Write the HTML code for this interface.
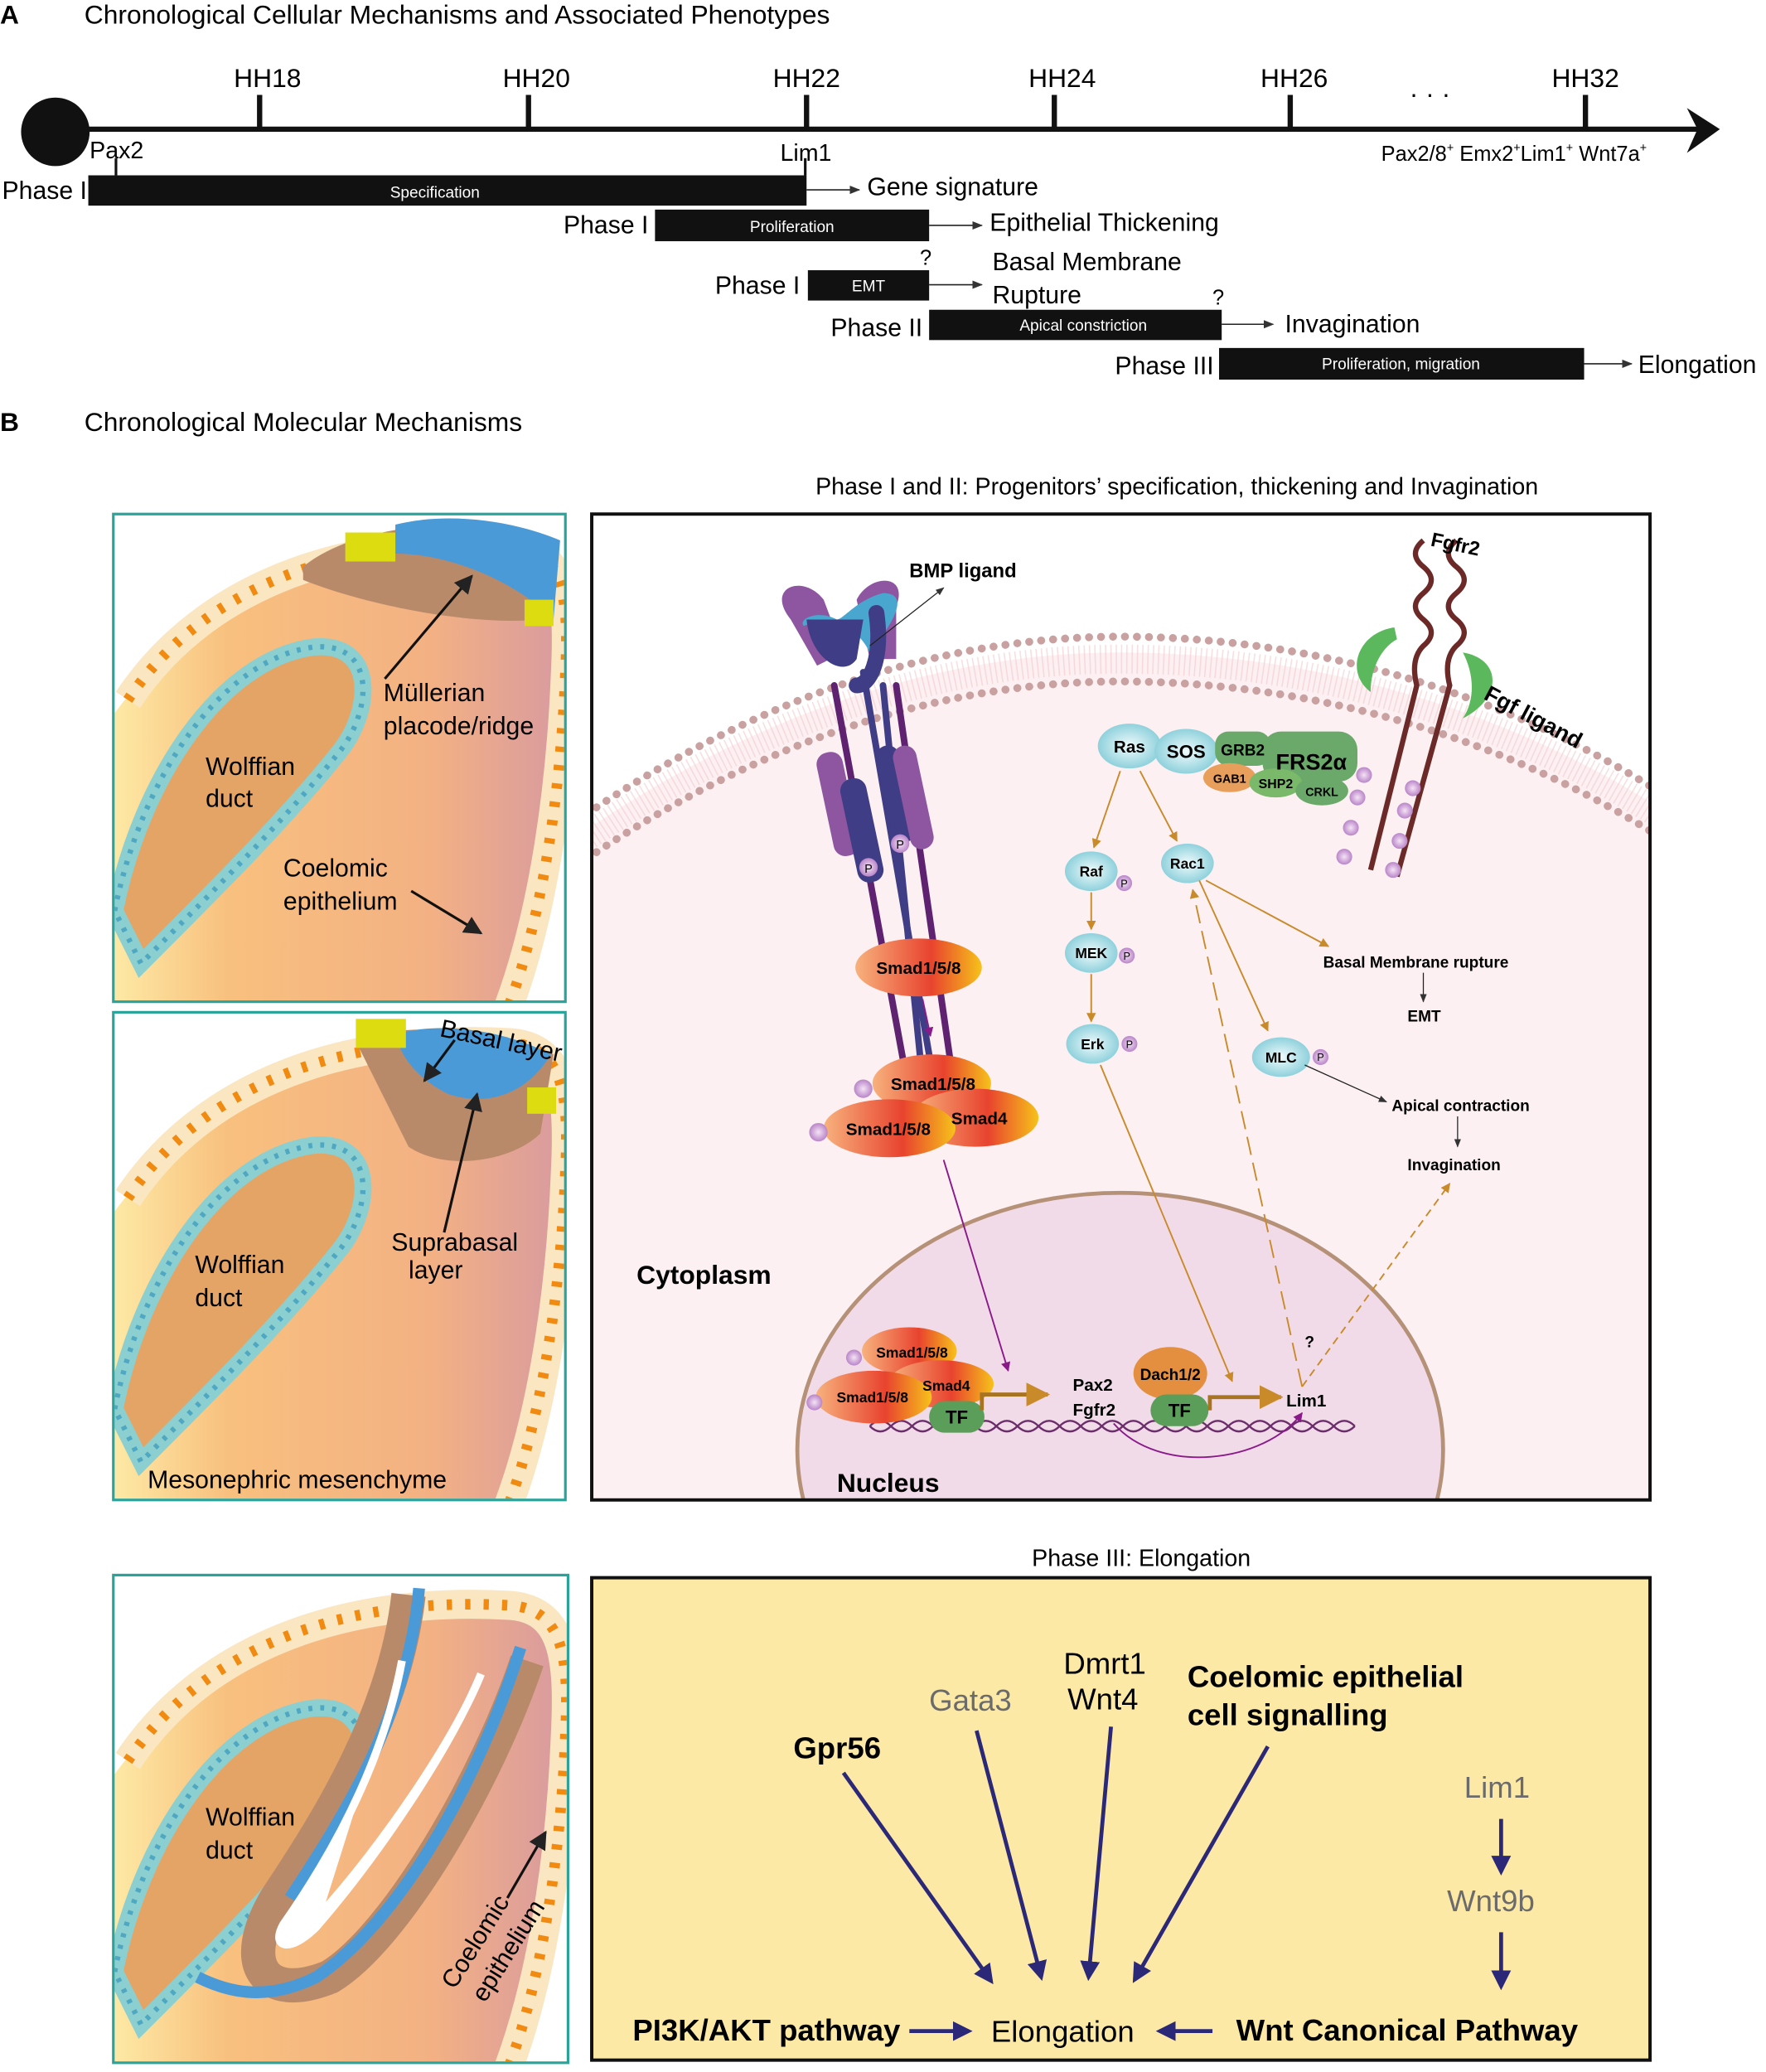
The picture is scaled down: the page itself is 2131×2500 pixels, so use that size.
<!DOCTYPE html>
<html><head><meta charset="utf-8"><style>
html,body{margin:0;padding:0;background:#fff;}
svg{display:block;}
text{font-family:"Liberation Sans","DejaVu Sans",sans-serif;}
</style></head><body>
<svg width="2131" height="2500" viewBox="0 0 1340 1572" xmlns="http://www.w3.org/2000/svg">
<defs>
<linearGradient id="body" x1="0" x2="1" y1="0" y2="0">
<stop offset="0" stop-color="#fde9a4"/><stop offset="0.25" stop-color="#f8c07e"/><stop offset="0.7" stop-color="#f3b183"/><stop offset="1" stop-color="#d89aa0"/></linearGradient>
<linearGradient id="smad" x1="0" x2="1"><stop offset="0" stop-color="#f7b27d"/><stop offset="0.6" stop-color="#e8432e"/><stop offset="1" stop-color="#f6c21a"/></linearGradient>
<radialGradient id="blueg"><stop offset="0" stop-color="#f0fbfc"/><stop offset="1" stop-color="#8fd1dc"/></radialGradient>
<radialGradient id="pg"><stop offset="0" stop-color="#f5e3f5"/><stop offset="1" stop-color="#b985c9"/></radialGradient>
<clipPath id="c1"><rect x="87" y="391" width="341" height="368"/></clipPath>
<clipPath id="c2"><rect x="87" y="769" width="341" height="368"/></clipPath>
<clipPath id="c3"><rect x="87" y="1196" width="343" height="368"/></clipPath>
<clipPath id="cm"><rect x="450" y="391" width="801" height="746"/></clipPath>
<marker id="ak" viewBox="0 0 10 10" refX="9" refY="5" markerWidth="7" markerHeight="7" orient="auto"><path d="M0,0L10,5L0,10z" fill="#222"/></marker>
<marker id="ag" viewBox="0 0 10 10" refX="9" refY="5" markerWidth="6" markerHeight="6" orient="auto"><path d="M0,0L10,5L0,10z" fill="#c98a2a"/></marker>
<marker id="ap" viewBox="0 0 10 10" refX="9" refY="5" markerWidth="6" markerHeight="6" orient="auto"><path d="M0,0L10,5L0,10z" fill="#8a1a8a"/></marker>
<marker id="an" viewBox="0 0 10 10" refX="8" refY="5" markerWidth="5" markerHeight="5" orient="auto"><path d="M0,0L10,5L0,10z" fill="#2b2878"/></marker>
<marker id="at" viewBox="0 0 10 10" refX="9" refY="5" markerWidth="8" markerHeight="8" orient="auto"><path d="M0,1L10,5L0,9z" fill="#333"/></marker>
<g id="embryo">
<path d="M0,380 L0,150 C70,55 190,15 310,20 C340,25 345,60 340,120 C335,220 320,320 290,380 Z" fill="url(#body)"/>
<path d="M10,140 C70,50 180,15 300,22 C340,25 345,60 342,120 C338,220 322,320 292,390" fill="none" stroke="#fbe6c2" stroke-width="22"/>
<path d="M10,140 C70,50 180,15 300,22 C340,25 345,60 342,120 C338,220 322,320 292,390" fill="none" stroke="#f08a10" stroke-width="8" stroke-dasharray="4 10"/>
<path d="M0,300 C20,200 80,110 150,100 C200,95 195,150 170,180 C130,230 80,280 20,340 Z" fill="#e3a466" stroke="#8ccfd0" stroke-width="13"/>
<path d="M0,300 C20,200 80,110 150,100 C200,95 195,150 170,180 C130,230 80,280 20,340 Z" fill="none" stroke="#4fa7c2" stroke-width="4" stroke-dasharray="3 6"/>
</g>
</defs>

<!-- Section A -->
<text x="0" y="18" font-size="20" font-weight="bold">A</text>
<text x="64" y="18" font-size="20">Chronological Cellular Mechanisms and Associated Phenotypes</text>
<line x1="40" y1="98" x2="1290" y2="98" stroke="#111" stroke-width="4"/>
<path d="M1280,82 L1305,98 L1280,116 L1288,98 Z" fill="#111"/>
<circle cx="42" cy="100" r="26" fill="#111"/>
<g stroke="#111" stroke-width="4">
<line x1="197" y1="72" x2="197" y2="98"/><line x1="401" y1="72" x2="401" y2="98"/><line x1="612" y1="72" x2="612" y2="98"/>
<line x1="800" y1="72" x2="800" y2="98"/><line x1="979" y1="72" x2="979" y2="98"/><line x1="1203" y1="72" x2="1203" y2="98"/>
<line x1="88" y1="120" x2="88" y2="133" stroke-width="2"/><line x1="611" y1="120" x2="611" y2="133" stroke-width="2"/>
</g>
<g font-size="20" text-anchor="middle">
<text x="203" y="66">HH18</text><text x="407" y="66">HH20</text><text x="612" y="66">HH22</text>
<text x="806" y="66">HH24</text><text x="982" y="66">HH26</text><text x="1203" y="66">HH32</text>
<text x="1085" y="78">· · ·</text>
</g>
<text x="68" y="120" font-size="18">Pax2</text>
<text x="592" y="122" font-size="18">Lim1</text>
<text x="1048" y="122" font-size="16">Pax2/8<tspan font-size="9" dy="-7">+</tspan><tspan dy="7"> Emx2</tspan><tspan font-size="9" dy="-7">+</tspan><tspan dy="7">Lim1</tspan><tspan font-size="9" dy="-7">+</tspan><tspan dy="7"> Wnt7a</tspan><tspan font-size="9" dy="-7">+</tspan></text>

<g font-size="19" text-anchor="end">
<text x="66" y="151">Phase I</text><text x="492" y="177">Phase I</text><text x="607" y="223">Phase I</text>
<text x="700" y="255">Phase II</text><text x="921" y="284">Phase III</text>
</g>
<rect x="67" y="133" width="545" height="23" fill="#111"/>
<rect x="497" y="159" width="208" height="24" fill="#111"/>
<rect x="613" y="205" width="92" height="23" fill="#111"/>
<rect x="705" y="235" width="222" height="23" fill="#111"/>
<rect x="925" y="264" width="277" height="24" fill="#111"/>
<g font-size="12" fill="#fff" text-anchor="middle">
<text x="330" y="150">Specification</text><text x="601" y="176">Proliferation</text><text x="659" y="221">EMT</text>
<text x="822" y="251">Apical constriction</text><text x="1063" y="280">Proliferation, migration</text>
</g>
<g stroke="#222" stroke-width="1" marker-end="url(#at)">
<line x1="612" y1="144" x2="652" y2="144"/><line x1="705" y1="171" x2="745" y2="171"/><line x1="705" y1="216" x2="745" y2="216"/>
<line x1="927" y1="246" x2="966" y2="246"/><line x1="1202" y1="276" x2="1238" y2="276"/>
</g>
<g font-size="19">
<text x="658" y="148">Gene signature</text><text x="751" y="175">Epithelial Thickening</text>
<text x="753" y="205">Basal Membrane</text><text x="753" y="230">Rupture</text>
<text x="975" y="252">Invagination</text><text x="1243" y="283">Elongation</text>
<text x="698" y="201" font-size="16">?</text><text x="920" y="231" font-size="16">?</text>
</g>

<!-- Section B -->
<text x="0" y="327" font-size="20" font-weight="bold">B</text>
<text x="64" y="327" font-size="20">Chronological Molecular Mechanisms</text>
<text x="893" y="375" font-size="18" text-anchor="middle">Phase I and II: Progenitors’ specification, thickening and Invagination</text>

<!-- left panel 1 -->
<g clip-path="url(#c1)">
<use href="#embryo" transform="translate(87,391)"/>
<path d="M230,430 C260,405 320,395 360,400 L420,420 L410,470 C360,475 280,460 230,440 Z" fill="#b98a6a"/>
<path d="M300,398 C340,388 390,395 425,410 L420,470 C390,440 340,420 300,420 Z" fill="#4a9ad8"/>
<rect x="262" y="404" width="38" height="22" fill="#dcdc10"/>
<rect x="398" y="455" width="22" height="20" fill="#dcdc10"/>
</g>
<rect x="86" y="390" width="343" height="370" fill="none" stroke="#2aa39a" stroke-width="2"/>
<g font-size="19">
<text x="291" y="532">Müllerian</text><text x="291" y="557">placode/ridge</text>
<text x="156" y="588">Wolffian</text><text x="156" y="612">duct</text>
<text x="215" y="665">Coelomic</text><text x="215" y="690">epithelium</text>
</g>
<line x1="292" y1="515" x2="358" y2="437" stroke="#111" stroke-width="2" marker-end="url(#ak)"/>
<line x1="312" y1="676" x2="365" y2="708" stroke="#111" stroke-width="2" marker-end="url(#ak)"/>

<!-- left panel 2 -->
<g clip-path="url(#c2)">
<use href="#embryo" transform="translate(87,769)"/>
<path d="M270,790 C300,775 360,780 420,800 L410,860 C390,880 340,890 310,870 Z" fill="#b98a6a"/>
<path d="M300,785 C330,775 380,780 418,800 C400,830 370,840 340,830 C320,820 305,805 300,785 Z" fill="#4a9ad8"/>
<rect x="270" y="773" width="38" height="22" fill="#dcdc10"/>
<rect x="400" y="825" width="22" height="20" fill="#dcdc10"/>
</g>
<rect x="86" y="768" width="343" height="370" fill="none" stroke="#2aa39a" stroke-width="2"/>
<g font-size="19">
<text x="333" y="786" transform="rotate(12 333 786)">Basal layer</text>
<text x="297" y="949">Suprabasal</text><text x="310" y="970">layer</text>
<text x="148" y="966">Wolffian</text><text x="148" y="991">duct</text>
<text x="112" y="1129">Mesonephric mesenchyme</text>
</g>
<line x1="345" y1="789" x2="322" y2="820" stroke="#111" stroke-width="2" marker-end="url(#ak)"/>
<line x1="337" y1="935" x2="362" y2="830" stroke="#111" stroke-width="2" marker-end="url(#ak)"/>

<!-- left panel 3 -->
<g clip-path="url(#c3)">
<use href="#embryo" transform="translate(87,1196)"/>
<path d="M310,1210 C300,1300 250,1380 210,1440 C180,1490 200,1520 250,1500 C300,1470 370,1350 400,1260" fill="none" stroke="#b98a6a" stroke-width="26"/>
<path d="M318,1205 C310,1300 260,1380 220,1440" fill="none" stroke="#4a9ad8" stroke-width="9"/>
<path d="M395,1250 C360,1360 300,1460 240,1500 C200,1520 170,1510 150,1500" fill="none" stroke="#4a9ad8" stroke-width="9"/>
<path d="M305,1260 C290,1340 250,1410 215,1460 C205,1478 220,1482 240,1462 C285,1410 340,1330 365,1270 C345,1320 290,1400 245,1450" fill="#fff" stroke="#fff" stroke-width="6"/>
</g>
<rect x="86" y="1195" width="345" height="370" fill="none" stroke="#2aa39a" stroke-width="2"/>
<g font-size="19">
<text x="156" y="1385">Wolffian</text><text x="156" y="1410">duct</text>
<text x="345" y="1510" transform="rotate(-58 345 1510)">Coelomic</text>
<text x="368" y="1520" transform="rotate(-58 368 1520)">epithelium</text>
</g>
<line x1="385" y1="1440" x2="414" y2="1390" stroke="#111" stroke-width="2" marker-end="url(#ak)"/>

<!-- main box -->
<rect x="449" y="390" width="803" height="748" fill="#fff"/>
<g clip-path="url(#cm)">
<path d="M430,640 C600,520 750,495 850,495 C1000,495 1150,540 1270,620 L1270,1140 L430,1140 Z" fill="#fcf0f2"/>
<path d="M430,628 C600,508 750,483 850,483 C1000,483 1150,528 1270,608" fill="none" stroke="#c9a1a0" stroke-width="6" stroke-dasharray="0.1 9" stroke-linecap="round"/>
<path d="M430,662 C600,542 750,517 850,517 C1000,517 1150,562 1270,642" fill="none" stroke="#c9a1a0" stroke-width="6" stroke-dasharray="0.1 9" stroke-linecap="round"/>
<path d="M430,645 C600,525 750,500 850,500 C1000,500 1150,545 1270,625" fill="none" stroke="#f3c9cc" stroke-width="22" stroke-dasharray="1 3" opacity="0.6"/>
<ellipse cx="850" cy="1100" rx="245" ry="195" fill="#f2dbe8" stroke="#b59178" stroke-width="3"/>
</g>
<rect x="449" y="390" width="803" height="748" fill="none" stroke="#111" stroke-width="2.5"/>

<!-- BMP receptor -->
<g stroke-linecap="round">
<line x1="633" y1="520" x2="690" y2="830" stroke="#5e2270" stroke-width="5"/>
<line x1="655" y1="510" x2="705" y2="800" stroke="#3f3d85" stroke-width="5"/>
<line x1="670" y1="520" x2="700" y2="820" stroke="#3f3d85" stroke-width="5"/>
<line x1="680" y1="520" x2="724" y2="825" stroke="#5e2270" stroke-width="5"/>
<rect x="626" y="570" width="20" height="80" rx="9" fill="#8e56a0" transform="rotate(-12 636 610)"/>
<rect x="644" y="590" width="20" height="80" rx="9" fill="#3f3d85" transform="rotate(-12 654 630)"/>
<rect x="670" y="565" width="18" height="75" rx="9" fill="#3f3d85" transform="rotate(-12 679 600)"/>
<rect x="684" y="565" width="18" height="80" rx="9" fill="#8e56a0" transform="rotate(-12 693 605)"/>
<path d="M600,470 C580,445 610,435 625,455 L640,495 L620,505 Z" fill="#8e56a0"/>
<path d="M680,460 C690,435 660,435 650,455 L660,500 L680,500 Z" fill="#8e56a0"/>
<path d="M610,475 C630,465 650,475 660,495 C680,470 690,450 670,450 C650,455 640,470 635,470 C620,462 605,470 610,475Z" fill="#48a6cf"/>
<path d="M612,470 C615,500 640,515 650,500 L655,470 Z" fill="#3f3d85"/>
<path d="M665,465 C670,500 660,520 650,520" stroke="#3f3d85" stroke-width="12" fill="none"/>
<circle cx="659" cy="658" r="7" fill="url(#pg)"/><text x="659" y="662" font-size="9" text-anchor="middle">P</text>
<circle cx="683" cy="640" r="7" fill="url(#pg)"/><text x="683" y="644" font-size="9" text-anchor="middle">P</text>
</g>
<text x="690" y="438" font-size="15" font-weight="bold">BMP ligand</text>
<line x1="660" y1="490" x2="716" y2="446" stroke="#222" stroke-width="0.8" marker-end="url(#at)"/>

<!-- Fgfr2 -->
<path d="M1080,410 q-12,10 0,20 q12,10 0,20 q-12,10 0,20 q12,10 0,20 q-10,10 -5,30 L1040,660" fill="none" stroke="#6b2a28" stroke-width="4"/>
<path d="M1105,410 q-12,10 0,20 q12,10 0,20 q-12,10 0,20 q12,10 0,20 q-10,10 -5,30 L1060,665" fill="none" stroke="#6b2a28" stroke-width="4"/>
<path d="M1058,476 C1030,480 1020,510 1040,525 C1040,505 1050,490 1060,485Z" fill="#5cb85c"/>
<path d="M1110,495 C1140,500 1140,530 1110,545 C1120,530 1118,510 1110,495Z" fill="#5cb85c"/>
<text x="1085" y="414" font-size="15" font-weight="bold" transform="rotate(12 1085 414)">Fgfr2</text>
<text x="1125" y="530" font-size="17" font-weight="bold" transform="rotate(28 1125 530)">Fgf ligand</text>
<g font-size="8" text-anchor="middle">
<circle cx="1035" cy="588" r="6" fill="url(#pg)"/><circle cx="1030" cy="605" r="6" fill="url(#pg)"/><circle cx="1025" cy="628" r="6" fill="url(#pg)"/><circle cx="1020" cy="650" r="6" fill="url(#pg)"/>
<circle cx="1072" cy="598" r="6" fill="url(#pg)"/><circle cx="1066" cy="615" r="6" fill="url(#pg)"/><circle cx="1062" cy="638" r="6" fill="url(#pg)"/><circle cx="1057" cy="660" r="6" fill="url(#pg)"/>
</g>
<!-- Ras/SOS complex -->
<ellipse cx="857" cy="566" rx="24" ry="17" fill="url(#blueg)"/>
<ellipse cx="900" cy="570" rx="24" ry="17" fill="url(#blueg)"/>
<rect x="922" y="555" width="42" height="26" rx="10" fill="#6aa96a"/>
<rect x="958" y="555" width="72" height="38" rx="14" fill="#6aa96a"/>
<ellipse cx="933" cy="590" rx="20" ry="11" fill="#e79f5b"/>
<ellipse cx="968" cy="594" rx="20" ry="11" fill="#7ab86a"/>
<ellipse cx="1003" cy="600" rx="20" ry="11" fill="#6aa96a"/>
<g font-weight="bold">
<text x="857" y="571" font-size="13" text-anchor="middle">Ras</text>
<text x="900" y="575" font-size="14" text-anchor="middle">SOS</text>
<text x="943" y="573" font-size="12" text-anchor="middle">GRB2</text>
<text x="995" y="584" font-size="17" text-anchor="middle">FRS2α</text>
<text x="933" y="594" font-size="9" text-anchor="middle">GAB1</text>
<text x="968" y="598" font-size="10" text-anchor="middle">SHP2</text>
<text x="1003" y="604" font-size="9" text-anchor="middle">CRKL</text>
</g>
<!-- kinases -->
<g font-size="11" font-weight="bold" text-anchor="middle">
<ellipse cx="828" cy="661" rx="20" ry="15" fill="url(#blueg)"/><text x="828" y="665">Raf</text>
<ellipse cx="901" cy="655" rx="20" ry="15" fill="url(#blueg)"/><text x="901" y="659">Rac1</text>
<ellipse cx="828" cy="723" rx="20" ry="15" fill="url(#blueg)"/><text x="828" y="727">MEK</text>
<ellipse cx="829" cy="792" rx="20" ry="15" fill="url(#blueg)"/><text x="829" y="796">Erk</text>
<ellipse cx="972" cy="802" rx="22" ry="15" fill="url(#blueg)"/><text x="972" y="806">MLC</text>
</g>
<g font-size="8" text-anchor="middle">
<circle cx="853" cy="670" r="6" fill="url(#pg)"/><text x="853" y="673">P</text>
<circle cx="855" cy="725" r="6" fill="url(#pg)"/><text x="855" y="728">P</text>
<circle cx="857" cy="792" r="6" fill="url(#pg)"/><text x="857" y="795">P</text>
<circle cx="1002" cy="802" r="6" fill="url(#pg)"/><text x="1002" y="805">P</text>
</g>
<g stroke="#c98a2a" stroke-width="1.2" fill="none" marker-end="url(#ag)">
<line x1="850" y1="585" x2="830" y2="643"/><line x1="865" y1="585" x2="893" y2="638"/>
<line x1="828" y1="677" x2="828" y2="705"/><line x1="828" y1="739" x2="828" y2="775"/>
<line x1="835" y1="808" x2="935" y2="1048"/>
<line x1="915" y1="668" x2="1008" y2="718"/><line x1="910" y1="668" x2="962" y2="782"/>
<line x1="988" y1="1052" x2="905" y2="675" stroke-dasharray="14 6"/>
<line x1="988" y1="1052" x2="1100" y2="898" stroke-dasharray="6 4"/>
</g>
<g stroke="#222" stroke-width="0.8" marker-end="url(#at)">
<line x1="990" y1="808" x2="1052" y2="836"/><line x1="1080" y1="738" x2="1080" y2="760"/><line x1="1106" y1="847" x2="1106" y2="870"/>
</g>
<g font-size="12" font-weight="bold">
<text x="1004" y="734">Basal Membrane rupture</text>
<text x="1068" y="775">EMT</text>
<text x="1056" y="843">Apical contraction</text>
<text x="1068" y="888">Invagination</text>
<text x="990" y="1022">?</text>
</g>
<!-- Smads -->
<ellipse cx="697" cy="734" rx="48" ry="22" fill="url(#smad)"/>
<text x="697" y="739" font-size="13" font-weight="bold" text-anchor="middle">Smad1/5/8</text>
<line x1="700" y1="758" x2="706" y2="786" stroke="#8a1a8a" stroke-width="1.2" marker-end="url(#ap)"/>
<ellipse cx="707" cy="822" rx="45" ry="22" fill="url(#smad)"/>
<ellipse cx="740" cy="848" rx="48" ry="22" fill="url(#smad)"/>
<ellipse cx="675" cy="856" rx="50" ry="22" fill="url(#smad)"/>
<g font-size="13" font-weight="bold" text-anchor="middle">
<text x="708" y="827">Smad1/5/8</text><text x="674" y="861">Smad1/5/8</text><text x="743" y="853">Smad4</text>
</g>
<circle cx="655" cy="826" r="7" fill="url(#pg)"/><circle cx="621" cy="859" r="7" fill="url(#pg)"/>
<line x1="716" y1="880" x2="765" y2="1040" stroke="#8a1a8a" stroke-width="1.2" marker-end="url(#ap)"/>
<!-- Nucleus contents -->
<text x="483" y="974" font-size="20" font-weight="bold">Cytoplasm</text>
<text x="635" y="1132" font-size="20" font-weight="bold">Nucleus</text>
<path d="M660,1082 q8,-8 16,0 t16,0 t16,0 t16,0 t16,0 t16,0 t16,0 t16,0 t16,0 t16,0 t16,0 t16,0 t16,0 t16,0 t16,0 t16,0 t16,0 t16,0 t16,0 t16,0 t16,0 t16,0 t16,0" fill="none" stroke="#6b2d6b" stroke-width="1.5"/>
<path d="M660,1082 q8,8 16,0 t16,0 t16,0 t16,0 t16,0 t16,0 t16,0 t16,0 t16,0 t16,0 t16,0 t16,0 t16,0 t16,0 t16,0 t16,0 t16,0 t16,0 t16,0 t16,0 t16,0 t16,0 t16,0" fill="none" stroke="#6b2d6b" stroke-width="1.5"/>
<ellipse cx="690" cy="1025" rx="36" ry="18" fill="url(#smad)"/>
<ellipse cx="714" cy="1050" rx="40" ry="18" fill="url(#smad)"/>
<ellipse cx="663" cy="1060" rx="44" ry="20" fill="url(#smad)"/>
<rect x="705" y="1063" width="42" height="24" rx="12" fill="#5a9e5a"/>
<g font-size="11" font-weight="bold" text-anchor="middle">
<text x="692" y="1030">Smad1/5/8</text><text x="662" y="1064">Smad1/5/8</text><text x="718" y="1055">Smad4</text>
</g>
<text x="726" y="1080" font-size="14" font-weight="bold" text-anchor="middle">TF</text>
<circle cx="648" cy="1030" r="6" fill="url(#pg)"/><circle cx="618" cy="1064" r="6" fill="url(#pg)"/>
<path d="M745,1070 L745,1058 L795,1058" fill="none" stroke="#a97422" stroke-width="3" marker-end="url(#ag)"/>
<text x="814" y="1055" font-size="13" font-weight="bold">Pax2</text>
<text x="814" y="1074" font-size="13" font-weight="bold">Fgfr2</text>
<ellipse cx="888" cy="1042" rx="28" ry="20" fill="#e48f3f"/>
<text x="888" y="1047" font-size="12" font-weight="bold" text-anchor="middle">Dach1/2</text>
<rect x="873" y="1058" width="44" height="24" rx="12" fill="#5a9e5a"/>
<text x="895" y="1075" font-size="14" font-weight="bold" text-anchor="middle">TF</text>
<path d="M918,1070 L918,1060 L972,1060" fill="none" stroke="#a97422" stroke-width="3" marker-end="url(#ag)"/>
<text x="976" y="1067" font-size="13" font-weight="bold">Lim1</text>
<path d="M845,1080 C880,1120 960,1110 988,1072" fill="none" stroke="#8a1a8a" stroke-width="1.2" marker-end="url(#ap)"/>

<!-- Phase III -->
<text x="866" y="1188" font-size="18" text-anchor="middle">Phase III: Elongation</text>
<rect x="449" y="1197" width="803" height="366" fill="#fde9a6" stroke="#111" stroke-width="2.5"/>
<g font-size="23">
<text x="602" y="1334" font-weight="bold">Gpr56</text>
<text x="705" y="1298" fill="#6b6b6b">Gata3</text>
<text x="807" y="1270">Dmrt1</text><text x="810" y="1297">Wnt4</text>
<text x="901" y="1280" font-weight="bold">Coelomic epithelial</text>
<text x="901" y="1309" font-weight="bold">cell signalling</text>
<text x="1111" y="1364" fill="#6b6b6b">Lim1</text>
<text x="1098" y="1450" fill="#6b6b6b">Wnt9b</text>
<text x="480" y="1548" font-weight="bold">PI3K/AKT pathway</text>
<text x="752" y="1549">Elongation</text>
<text x="938" y="1548" font-weight="bold">Wnt Canonical Pathway</text>
</g>
<g stroke="#2b2878" stroke-width="3" marker-end="url(#an)">
<line x1="640" y1="1345" x2="752" y2="1503"/><line x1="741" y1="1313" x2="790" y2="1500"/>
<line x1="843" y1="1310" x2="826" y2="1500"/><line x1="962" y1="1325" x2="861" y2="1502"/>
<line x1="1139" y1="1380" x2="1139" y2="1420"/><line x1="1139" y1="1466" x2="1139" y2="1507"/>
<line x1="690" y1="1541" x2="735" y2="1541"/><line x1="920" y1="1541" x2="880" y2="1541"/>
</g>
</svg>
</body></html>
